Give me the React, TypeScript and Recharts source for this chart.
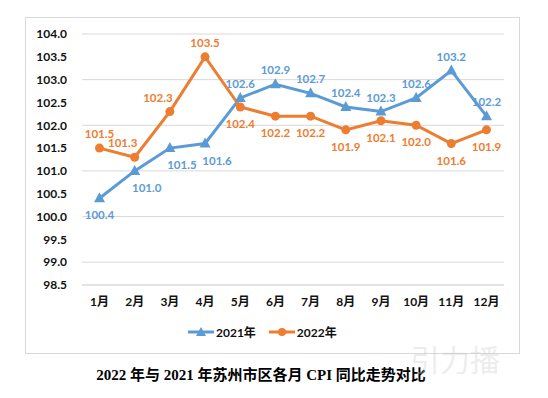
import { CartesianGrid, Legend, Line, LineChart, XAxis, YAxis } from "recharts";

const months = ["1月", "2月", "3月", "4月", "5月", "6月", "7月", "8月", "9月", "10月", "11月", "12月"];
const cpi2021 = [100.4, 101.0, 101.5, 101.6, 102.6, 102.9, 102.7, 102.4, 102.3, 102.6, 103.2, 102.2];
const cpi2022 = [101.5, 101.3, 102.3, 103.5, 102.4, 102.2, 102.2, 101.9, 102.1, 102.0, 101.6, 101.9];
const yTicks = [98.5, 99.0, 99.5, 100.0, 100.5, 101.0, 101.5, 102.0, 102.5, 103.0, 103.5, 104.0];
const seriesNames = ["2021年", "2022年"];
const chartTitle = "2022 年与 2021 年苏州市区各月 CPI 同比走势对比";

const data = months.map((month, i) => ({ month, y2021: cpi2021[i], y2022: cpi2022[i] }));

const BLUE = "#5B9BD5";
const ORANGE = "#ED7D31";
const font = "Lato, 'Noto Sans CJK SC', sans-serif";
const tick = { fontSize: 12, fill: "#111", fontWeight: 700, fontFamily: font };

// marker + value label; label goes above when this series is the higher one that month
function makeDot(kind: "triangle" | "circle", color: string, own: string, other: string) {
  return (props: any) => {
    const { cx, cy, index, payload } = props;
    const above = payload[own] > payload[other];
    // nudge sideways when the next month climbs steeply through the label
    const next = data[index + 1] as any;
    const rise = next ? next[own] - payload[own] : 0;
    const dx = above && rise > 0.8 ? -12 : !above && index > 0 && index < 4 && kind === "triangle" ? 12 : 0;
    return (
      <g key={`${own}-${index}`}>
        {kind === "triangle" ? (
          <polygon points={`${cx},${cy - 6} ${cx - 5.5},${cy + 4} ${cx + 5.5},${cy + 4}`} fill={color} />
        ) : (
          <circle cx={cx} cy={cy} r={4.5} fill={color} />
        )}
        <text
          x={cx + dx}
          y={above ? cy - 10 : cy + 21}
          textAnchor="middle"
          fontSize={11.5}
          fontWeight={700}
          fontFamily={font}
          fill={color}
        >
          {payload[own].toFixed(1)}
        </text>
      </g>
    );
  };
}

function LegendIcon({ kind, color }: { kind: string; color: string }) {
  return (
    <svg width={26} height={12} style={{ display: "block" }}>
      <line x1={0} y1={6} x2={26} y2={6} stroke={color} strokeWidth={3} />
      {kind === "triangle" ? (
        <polygon points="13,1 8,10 18,10" fill={color} />
      ) : (
        <circle cx={13} cy={6} r={4} fill={color} />
      )}
    </svg>
  );
}

function renderLegend() {
  const items = [
    { name: seriesNames[0], kind: "triangle", color: BLUE },
    { name: seriesNames[1], kind: "circle", color: ORANGE },
  ];
  return (
    <div style={{ display: "flex", alignItems: "center", gap: 13 }}>
      {items.map((it) => (
        <div key={it.name} style={{ display: "flex", alignItems: "center", gap: 2 }}>
          <LegendIcon kind={it.kind} color={it.color} />
          <span style={{ fontSize: 12, fontWeight: 700, fontFamily: font, color: "#111" }}>{it.name}</span>
        </div>
      ))}
    </div>
  );
}

export default function App() {
  return (
    <div style={{ position: "absolute", left: 0, top: 0, width: 548, height: 398, background: "#fff", overflow: "hidden" }}>
      <div
        style={{
          position: "absolute",
          left: 25,
          top: 17,
          width: 495,
          height: 337,
          border: "1px solid #D9D9D9",
          boxSizing: "border-box",
        }}
      >
        <LineChart width={493} height={335} data={data} margin={{ top: 16, right: 15, left: 6, bottom: 38 }}>
          <CartesianGrid stroke="#D9D9D9" vertical={false} />
          <XAxis
            dataKey="month"
            tickLine={false}
            axisLine={{ stroke: "#D9D9D9" }}
            tick={tick}
            tickMargin={6}
            interval={0}
            padding={{ left: 17.5, right: 17.5 }}
          />
          <YAxis
            width={50}
            domain={[98.5, 104]}
            ticks={yTicks}
            tickFormatter={(v: number) => v.toFixed(1)}
            tickLine={false}
            axisLine={false}
            tick={tick}
            tickMargin={9}
          />
          <Legend
            layout="horizontal"
            verticalAlign="middle"
            align="center"
            content={renderLegend}
            wrapperStyle={{ left: 162, top: 305, width: 200 }}
          />
          <Line
            dataKey="y2021"
            name={seriesNames[0]}
            stroke={BLUE}
            strokeWidth={3}
            dot={makeDot("triangle", BLUE, "y2021", "y2022")}
            isAnimationActive={false}
          />
          <Line
            dataKey="y2022"
            name={seriesNames[1]}
            stroke={ORANGE}
            strokeWidth={3}
            dot={makeDot("circle", ORANGE, "y2022", "y2021")}
            isAnimationActive={false}
          />
        </LineChart>
      </div>
      <div
        style={{
          position: "absolute",
          left: 0,
          top: 363,
          width: 522,
          textAlign: "center",
          fontFamily: "'Liberation Serif', 'Noto Sans CJK SC', serif",
          fontWeight: 700,
          fontSize: 15,
          color: "#000",
        }}
      >
        {chartTitle}
      </div>
      <div
        style={{
          position: "absolute",
          left: 410,
          top: 336,
          fontFamily: "'Noto Sans CJK SC', sans-serif",
          fontSize: 30,
          color: "rgba(200,200,200,0.35)",
          pointerEvents: "none",
        }}
      >
        引力播
      </div>
    </div>
  );
}
